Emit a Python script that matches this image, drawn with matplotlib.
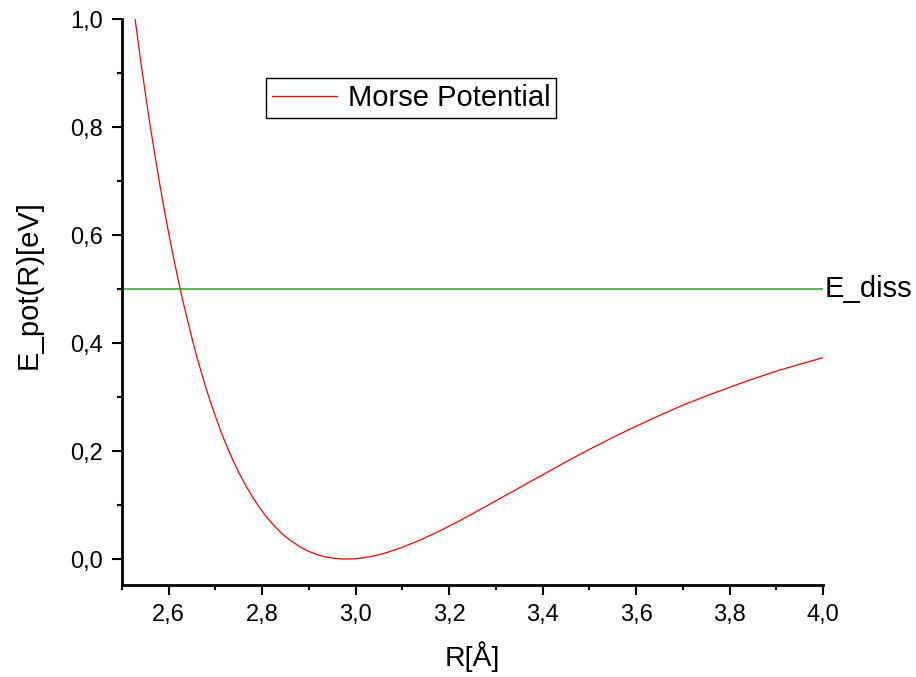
import matplotlib
matplotlib.use("Agg")
import matplotlib.pyplot as plt
from matplotlib.ticker import MultipleLocator, FuncFormatter

plt.rcParams['font.family'] = ['Liberation Sans', 'DejaVu Sans']

# values
r = [2.528, 2.54, 2.55, 2.56, 2.57, 2.58, 2.59, 2.60, 2.61, 2.62, 2.63,
     2.64, 2.65, 2.66, 2.67, 2.68, 2.69, 2.70, 2.71, 2.72, 2.735, 2.75,
     2.765, 2.78, 2.795, 2.81, 2.825, 2.84, 2.855, 2.87, 2.885, 2.90,
     2.915, 2.93, 2.945, 2.96, 2.97, 2.98, 2.99, 3.00, 3.02, 3.04, 3.06,
     3.08, 3.10, 3.12, 3.14, 3.16, 3.18, 3.20, 3.225, 3.25, 3.275, 3.30,
     3.325, 3.35, 3.375, 3.40, 3.45, 3.50, 3.55, 3.60, 3.65, 3.70, 3.75,
     3.80, 3.85, 3.90, 3.95, 4.00]
e_pot = [1.000, 0.922, 0.862, 0.804, 0.750, 0.698, 0.649, 0.603, 0.559,
         0.518, 0.479, 0.443, 0.408, 0.375, 0.345, 0.316, 0.289, 0.264,
         0.240, 0.218, 0.1875, 0.160, 0.1356, 0.114, 0.0944, 0.077,
         0.0623, 0.049, 0.038, 0.029, 0.0207, 0.014, 0.0091, 0.005,
         0.0025, 0.001, 0.0002, 0.000, 0.0002, 0.0007, 0.0028, 0.006,
         0.0104, 0.016, 0.0218, 0.029, 0.0359, 0.044, 0.0522, 0.061,
         0.0721, 0.084, 0.0957, 0.108, 0.1199, 0.132, 0.1442, 0.156,
         0.1801, 0.203, 0.2251, 0.246, 0.2659, 0.285, 0.302, 0.318,
         0.3335, 0.348, 0.3606, 0.373]
e_diss = 0.5
r_min, r_max = 2.5, 4.0

fig = plt.figure(figsize=(9.16, 6.77), dpi=100)
ax = fig.add_axes([0.1332, 0.1359, 0.7653, 0.836])

ax.plot(r, e_pot, color='#ff0000', lw=0.9, label='Morse Potential')
ax.plot([r_min, r_max], [e_diss, e_diss], color='#22aa22', lw=1.1)
ax.text(r_max + 0.003, e_diss, 'E_diss', fontsize=21, va='center', ha='left',
        clip_on=False)

ax.set_xlim(r_min, r_max)
ax.set_ylim(-0.048, 1.0)

for s in ['top', 'right']:
    ax.spines[s].set_visible(False)
for s in ['left', 'bottom']:
    ax.spines[s].set_linewidth(2)

ax.xaxis.set_major_locator(MultipleLocator(0.2))
ax.xaxis.set_minor_locator(MultipleLocator(0.1))
ax.yaxis.set_major_locator(MultipleLocator(0.2))
ax.yaxis.set_minor_locator(MultipleLocator(0.1))
comma = FuncFormatter(lambda v, p: f"{v:.1f}".replace('.', ','))
ax.xaxis.set_major_formatter(comma)
ax.yaxis.set_major_formatter(comma)
ax.set_xticks([2.6, 2.8, 3.0, 3.2, 3.4, 3.6, 3.8, 4.0])

ax.tick_params(which='major', direction='out', length=7.5, width=1.5,
               labelsize=17, pad=6)
ax.tick_params(which='minor', direction='out', length=3.75, width=1.5)

ax.set_xlabel('R[Å]', fontsize=20.5)
ax.set_ylabel('E_pot(R)[eV]', fontsize=21)
ax.xaxis.set_label_coords(0.5, -0.1)
ax.yaxis.set_label_coords(-0.113, 0.53)

leg = ax.legend(loc='upper left', bbox_to_anchor=(0.2904, 0.8848),
                bbox_transform=fig.transFigure, borderaxespad=0,
                fontsize=21, handlelength=2.25, handletextpad=0.35,
                borderpad=0.2, fancybox=False, framealpha=1)
leg.get_frame().set_edgecolor('black')
leg.get_frame().set_linewidth(1)

fig.savefig('out.png', dpi=100)
